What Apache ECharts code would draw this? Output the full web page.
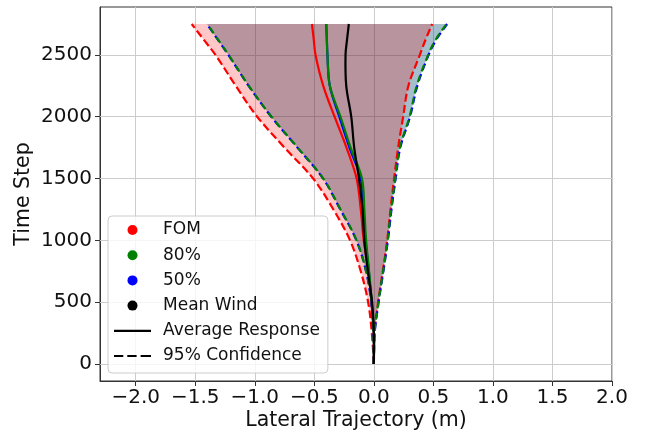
<!DOCTYPE html>
<html>
<head>
<meta charset="utf-8">
<script src="https://cdn.jsdelivr.net/npm/echarts@6/dist/echarts.min.js"></script>
<style>
  html, body { margin: 0; padding: 0; background: #fff; }
  #main { width: 648px; height: 439px; }
</style>
</head>
<body>
<div id="main"></div>
<script>
// values (x = lateral m, per time step)
const timeSteps = [0, 250, 500, 750, 1000, 1250, 1500, 1750, 2000, 2250, 2500, 2625, 2750];

const fomMean  = [0, 0, -0.02, -0.045, -0.085, -0.11, -0.145, -0.23, -0.33, -0.425, -0.49, -0.505, -0.52];
const fomLow   = [0, -0.017, -0.048, -0.11, -0.2, -0.34, -0.51, -0.75, -0.98, -1.16, -1.33, -1.43, -1.53];
const fomHigh  = [0, 0.005, 0.036, 0.075, 0.112, 0.14, 0.17, 0.204, 0.246, 0.29, 0.386, 0.435, 0.49];

const p80Mean  = [0, 0, -0.018, -0.04, -0.065, -0.08, -0.1, -0.195, -0.28, -0.37, -0.39, -0.395, -0.4];
const p80Low   = [0, -0.005, -0.02, -0.065, -0.145, -0.28, -0.425, -0.64, -0.86, -1.05, -1.22, -1.31, -1.4];
const p80High  = [0, 0.006, 0.038, 0.078, 0.115, 0.145, 0.18, 0.218, 0.3, 0.36, 0.456, 0.52, 0.61];

const p50Mean  = [0, 0, -0.02, -0.042, -0.07, -0.088, -0.11, -0.205, -0.29, -0.37, -0.39, -0.395, -0.4];
const p50Low   = [0, -0.005, -0.022, -0.066, -0.147, -0.282, -0.427, -0.642, -0.862, -1.052, -1.222, -1.312, -1.402];
const p50High  = [0, 0.007, 0.04, 0.08, 0.118, 0.148, 0.183, 0.222, 0.304, 0.365, 0.46, 0.525, 0.615];

const windMean = [0, 0, -0.015, -0.05, -0.08, -0.095, -0.125, -0.165, -0.19, -0.232, -0.238, -0.225, -0.21];

const xTicks = [-2, -1.5, -1, -0.5, 0, 0.5, 1, 1.5, 2];
const yTicks = [0, 500, 1000, 1500, 2000, 2500];

const FONT = 'DejaVu Sans';
const SMOOTH = 0.35;
const DASH = [8, 3.5];
const DASH_BG = [7, 4.5];

// bezier path through pixel points (catmull-like, like echarts line smoothing)
function curve(pts, s) {
  const n = pts.length;
  const ctrl = pts.map((p, i) => {
    const prev = pts[Math.max(i - 1, 0)], next = pts[Math.min(i + 1, n - 1)];
    const vx = (next[0] - prev[0]) * s, vy = (next[1] - prev[1]) * s;
    const d0 = Math.hypot(p[0] - prev[0], p[1] - prev[1]);
    const d1 = Math.hypot(next[0] - p[0], next[1] - p[1]);
    const sum = d0 + d1 || 1;
    return [[p[0] - vx * d0 / sum, p[1] - vy * d0 / sum], [p[0] + vx * d1 / sum, p[1] + vy * d1 / sum]];
  });
  let d = '';
  for (let i = 0; i < n - 1; i++) {
    d += ' C' + ctrl[i][1][0] + ',' + ctrl[i][1][1] + ' ' + ctrl[i + 1][0][0] + ',' + ctrl[i + 1][0][1] +
      ' ' + pts[i + 1][0] + ',' + pts[i + 1][1];
  }
  return d;
}

function toPx(api, xs) {
  return xs.map((x, i) => api.coord([x, timeSteps[i]]));
}

function band(low, high, color) {
  return {
    type: 'custom', silent: true, data: [[0, 0]],
    renderItem: function (params, api) {
      const lo = toPx(api, low);
      const hi = toPx(api, high).reverse();
      const d = 'M' + lo[0][0] + ',' + lo[0][1] + curve(lo, SMOOTH) +
        ' L' + hi[0][0] + ',' + hi[0][1] + curve(hi, SMOOTH) + ' Z';
      return { type: 'path', shape: { pathData: d }, style: { fill: color, stroke: null } };
    }
  };
}

function line(xs, color, dash, offset) {
  return {
    type: 'custom', silent: true, data: [[0, 0]],
    renderItem: function (params, api) {
      const pts = toPx(api, xs);
      const d = 'M' + pts[0][0] + ',' + pts[0][1] + curve(pts, SMOOTH);
      return {
        type: 'path', shape: { pathData: d },
        style: {
          fill: 'none', stroke: color, lineWidth: 2.2,
          lineDash: dash || null, lineDashOffset: offset || 0
        }
      };
    }
  };
}

function legendItem(name, color) {
  return { name: name, type: 'scatter', data: [], itemStyle: { color: color, opacity: 1 } };
}

const chart = echarts.init(document.getElementById('main'));

const series = [
  {
    type: 'line', data: [], silent: true,
    markLine: {
      silent: true, symbol: ['none', 'none'], z: 1, animation: false,
      label: { show: false },
      lineStyle: { color: '#cccccc', width: 1, type: 'solid' },
      data: xTicks.map(v => ({ xAxis: v })).concat(yTicks.map(v => ({ yAxis: v })))
    }
  },
  band(p50Low, p50High, 'rgba(0,0,255,0.2)'),
  band(p80Low, p80High, 'rgba(0,128,0,0.2)'),
  band(fomLow, fomHigh, 'rgba(255,0,0,0.22)'),
  line(fomLow, '#ff0000', DASH),
  line(fomHigh, '#ff0000', DASH),
  line(p50Low, '#0000ff', DASH_BG),
  line(p50High, '#0000ff', DASH_BG),
  line(p80Low, '#008000', DASH_BG, 1.5),
  line(p80High, '#008000', DASH_BG, 1.5),
  line(fomMean, '#ff0000'),
  line(p50Mean, '#0000ff'),
  line(p80Mean, '#008000'),
  line(windMean, '#000000'),
  legendItem('FOM', '#ff0000'),
  legendItem('80%', '#008000'),
  legendItem('50%', '#0000ff'),
  legendItem('Mean Wind', '#000000'),
  legendItem('Average Response', '#000000'),
  legendItem('95% Confidence', '#000000')
];

chart.setOption({
  animation: false,
  grid: {
    left: 100, right: 36, top: 7, bottom: 58,
    show: true, borderColor: '#333', borderWidth: 1, backgroundColor: 'transparent'
  },
  xAxis: {
    type: 'value', min: -2.3, max: 2.0,
    name: 'Lateral Trajectory (m)', nameLocation: 'middle', nameGap: 29, nameMoveOverlap: false,
    nameTextStyle: { fontFamily: FONT, fontSize: 20.5, color: '#111' },
    axisLine: { onZero: false, lineStyle: { color: '#333', width: 1 } },
    axisTick: { show: true, inside: false, length: 5, customValues: xTicks, lineStyle: { color: '#333' } },
    axisLabel: {
      customValues: xTicks, margin: 7,
      fontFamily: FONT, fontSize: 20, color: '#111',
      formatter: v => v.toFixed(1).replace('-', '\u2212')
    },
    splitLine: { show: false }
  },
  yAxis: {
    type: 'value', min: -137.5, max: 2887.5,
    name: 'Time Step', nameLocation: 'middle', nameGap: 66, nameMoveOverlap: false,
    nameTextStyle: { fontFamily: FONT, fontSize: 20.5, color: '#111' },
    axisLine: { onZero: false, lineStyle: { color: '#333', width: 1 } },
    axisTick: { show: true, inside: false, length: 5, customValues: yTicks, lineStyle: { color: '#333' } },
    axisLabel: {
      customValues: yTicks, margin: 8,
      fontFamily: FONT, fontSize: 20, color: '#111',
      formatter: v => String(v)
    },
    splitLine: { show: false }
  },
  legend: {
    orient: 'vertical', left: 108, top: 216,
    padding: [4, 8, 7, 6],
    itemWidth: 37, itemHeight: 10, itemGap: 5.2,
    symbolKeepAspect: true,
    backgroundColor: 'rgba(255,255,255,0.8)', borderColor: '#cccccc', borderWidth: 1, borderRadius: 4,
    selectedMode: false,
    textStyle: { fontFamily: FONT, fontSize: 17, color: '#111', lineHeight: 20, padding: [0, 0, 0, 7] },
    data: [
      { name: 'FOM', icon: 'circle' },
      { name: '80%', icon: 'circle' },
      { name: '50%', icon: 'circle' },
      { name: 'Mean Wind', icon: 'circle' },
      { name: 'Average Response', icon: 'path://M0,0h37v2.2h-37z' },
      { name: '95% Confidence', icon: 'path://M0,0h9.3v2.2h-9.3z M13.3,0h9.3v2.2h-9.3z M26.6,0h10.4v2.2h-10.4z' }
    ]
  },
  series: series
});
</script>
</body>
</html>
